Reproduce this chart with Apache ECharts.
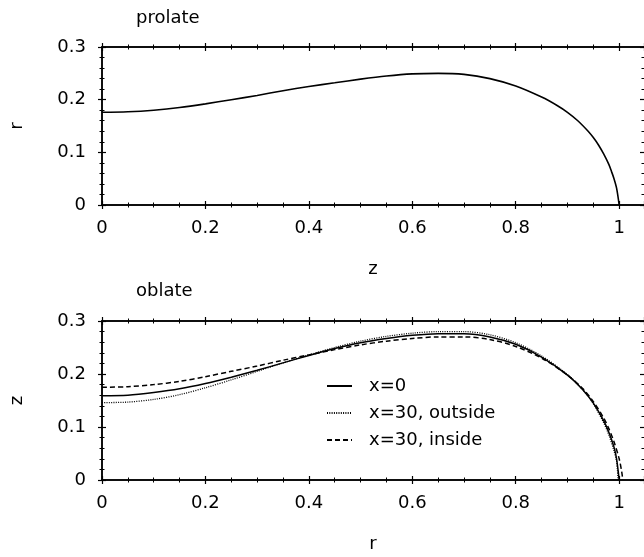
<!DOCTYPE html>
<html><head><meta charset="utf-8">
<script src="https://cdn.jsdelivr.net/npm/echarts@6/dist/echarts.min.js"></script>
<style>html,body{margin:0;padding:0;background:#fff}#c{width:644px;height:557px}</style>
</head><body><div id="c"></div>
<script>
// prolate panel: z vs r
const prolateZ = [0,0.05,0.1,0.15,0.2,0.25,0.3,0.35,0.4,0.45,0.5,0.55,0.6,0.65,0.7,0.75,0.8,0.85,0.88,0.9,0.92,0.94,0.95,0.96,0.97,0.98,0.985,0.99,0.995,1.0];
const prolateR = [0.176,0.177,0.180,0.185,0.192,0.200,0.208,0.217,0.225,0.232,0.239,0.245,0.249,0.250,0.248,0.240,0.226,0.205,0.189,0.176,0.160,0.140,0.128,0.114,0.097,0.077,0.064,0.050,0.032,0];
// oblate panel: r vs z
const oblateR0 = [0,0.05,0.1,0.15,0.2,0.25,0.3,0.35,0.4,0.45,0.5,0.55,0.6,0.65,0.7,0.75,0.8,0.85,0.9,0.93,0.95,0.97,0.98,0.99,0.995,1.0];
const oblateZ0 = [0.159,0.160,0.165,0.172,0.182,0.194,0.207,0.221,0.235,0.248,0.259,0.267,0.273,0.276,0.276,0.270,0.256,0.232,0.198,0.170,0.145,0.112,0.090,0.062,0.040,0];
const oblateRout = [0,0.05,0.1,0.15,0.2,0.25,0.3,0.35,0.4,0.45,0.5,0.55,0.6,0.65,0.7,0.75,0.8,0.85,0.9,0.93,0.95,0.97,0.98,0.99,0.995,0.998];
const oblateZout = [0.146,0.147,0.152,0.161,0.174,0.189,0.205,0.221,0.236,0.250,0.262,0.271,0.277,0.280,0.280,0.274,0.259,0.234,0.199,0.170,0.144,0.108,0.085,0.055,0.035,0];
const oblateRin = [0,0.05,0.1,0.15,0.2,0.25,0.3,0.35,0.4,0.45,0.5,0.55,0.6,0.65,0.7,0.75,0.8,0.85,0.9,0.93,0.95,0.97,0.98,0.99,1.0,1.005,1.007];
const oblateZin = [0.175,0.176,0.180,0.186,0.195,0.205,0.215,0.226,0.236,0.246,0.255,0.262,0.267,0.270,0.270,0.265,0.252,0.230,0.198,0.172,0.148,0.117,0.097,0.072,0.040,0.015,0];
const legendNames = ['x=0','x=30, outside','x=30, inside'];
const panelTitles = ['prolate','oblate'];
const xTitles = ['z','r'];
const yTitles = ['r','z'];

const FONT = 'DejaVu Sans, sans-serif';
const FS = 18;
const XMAX = 1.048;
const grids = [{left:96,right:0,top:47,height:158},{left:96,right:0,top:321,height:159}];
const xAxes = [], yAxes = [];
function zip(a,b){return a.map((v,i)=>[v,b[i]]);}
grids.forEach((g,gi)=>{
  [['bottom',true,true],['bottom',false,false],['top',true,false],['top',false,false]].forEach(([pos,inside,labels],k)=>{
    xAxes.push({
      gridIndex:gi, type:'value', position:pos, min:0, max:XMAX, interval:0.2,
      name: (k===0)? xTitles[gi] : '', nameLocation:'middle', nameGap:55,
      nameTextStyle:{fontFamily:FONT,fontSize:FS,color:'#000'},
      axisLine:{show:true,onZero:false,lineStyle:{color:'#000',width:1.5}},
      axisTick:{show:true,inside:inside,length:4,lineStyle:{color:'#000',width:1.2}},
      minorTick:{show:true,splitNumber:4,length:2.5,lineStyle:{color:'#000',width:1}},
      axisLabel:{show:labels,showMaxLabel:false,margin:14,fontFamily:FONT,fontSize:FS,color:'#000',
        formatter:v=>String(+v.toFixed(2))},
      splitLine:{show:false}
    });
  });
  [['left',true,false,true],['left',false,true,true],['right',true,false,false]].forEach(([pos,inside,labels,line],k)=>{
    yAxes.push({
      gridIndex:gi, type:'value', position:pos, min:0, max:0.3, interval:0.1,
      name: (k===1)? yTitles[gi] : '', nameLocation:'middle', nameGap:76, nameRotate:90,
      nameTextStyle:{fontFamily:FONT,fontSize:FS,color:'#000'},
      axisLine:{show:line,onZero:false,lineStyle:{color:'#000',width:1.5}},
      axisTick:{show:true,inside:inside,length:4,lineStyle:{color:'#000',width:1.2}},
      minorTick:{show:true,splitNumber:5,length:2.5,lineStyle:{color:'#000',width:1}},
      axisLabel:{show:labels,margin:16,fontFamily:FONT,fontSize:FS,color:'#000',
        formatter:v=>String(+v.toFixed(2))},
      splitLine:{show:false}
    });
  });
});
const base = {type:'line',showSymbol:false,symbol:'none',smooth:0.3,animation:false,silent:true};
const series = [
  Object.assign({},base,{name:'prolate',xAxisIndex:0,yAxisIndex:0,data:zip(prolateZ,prolateR),
    lineStyle:{color:'#000',width:1.6},itemStyle:{color:'#000'}}),
  Object.assign({},base,{name:legendNames[0],xAxisIndex:4,yAxisIndex:3,data:zip(oblateR0,oblateZ0),
    lineStyle:{color:'#000',width:1.5},itemStyle:{color:'#000'}}),
  Object.assign({},base,{name:legendNames[1],xAxisIndex:4,yAxisIndex:3,data:zip(oblateRout,oblateZout),
    lineStyle:{color:'#000',width:1.3,type:[1,1.3]},itemStyle:{color:'#000'}}),
  Object.assign({},base,{name:legendNames[2],xAxisIndex:4,yAxisIndex:3,data:zip(oblateRin,oblateZin),
    lineStyle:{color:'#000',width:1.5,type:[5,3]},itemStyle:{color:'#000'}})
];
const chart = echarts.init(document.getElementById('c'),null,{renderer:'canvas'});
chart.setOption({
  animation:false,
  backgroundColor:'#fff',
  title:[
    {text:panelTitles[0],left:131,top:4,textStyle:{fontFamily:FONT,fontSize:FS,fontWeight:'normal',color:'#000'}},
    {text:panelTitles[1],left:131,top:277,textStyle:{fontFamily:FONT,fontSize:FS,fontWeight:'normal',color:'#000'}}
  ],
  grid:grids,
  xAxis:xAxes,
  yAxis:yAxes,
  legend:{
    data:legendNames, orient:'vertical', left:321, top:372,
    itemWidth:25, itemHeight:14, itemGap:9,
    itemStyle:{opacity:0},
    textStyle:{fontFamily:FONT,fontSize:FS,color:'#000',padding:[0,0,0,12]},
    selectedMode:false
  },
  series:series
});
</script></body></html>
